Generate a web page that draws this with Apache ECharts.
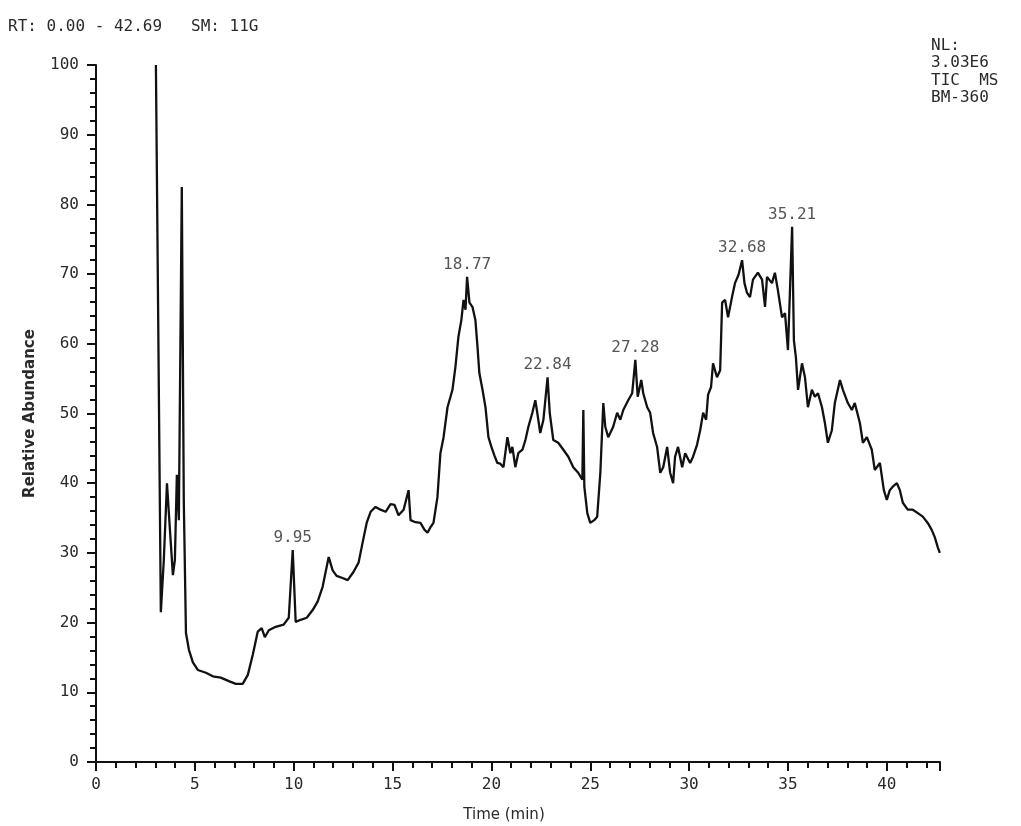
<!DOCTYPE html>
<html>
<head>
<meta charset="utf-8">
<title>RT: 0.00 - 42.69 SM: 11G</title>
<script src="https://cdn.jsdelivr.net/npm/echarts@6/dist/echarts.min.js"></script>
<style>
  html, body { margin: 0; padding: 0; background: #fff; }
  #chart { width: 1021px; height: 826px; }
</style>
</head>
<body>
<div id="chart"></div>
<script>
// Total ion chromatogram: retention time (min) vs relative abundance (%)
const retentionTime = [
  3.03, 3.28, 3.43, 3.59, 3.74, 3.89, 3.99, 4.09, 4.19, 4.34, 4.44, 4.55, 4.70, 4.90, 5.15,
  5.56, 5.91, 6.31, 6.72, 7.07, 7.42, 7.68, 7.93, 8.18, 8.38, 8.54, 8.74, 9.09, 9.49, 9.75, 9.95,
  10.10, 10.35, 10.66, 10.96, 11.21, 11.46, 11.77, 11.97, 12.17, 12.47, 12.73, 13.03, 13.28, 13.48,
  13.69, 13.89, 14.14, 14.39, 14.65, 14.90, 15.10, 15.30, 15.56, 15.81, 15.91, 16.16, 16.41, 16.62,
  16.77, 16.92, 17.07, 17.27, 17.42, 17.58, 17.78, 18.03, 18.18, 18.33, 18.48, 18.59, 18.69, 18.77,
  18.89, 19.04, 19.19, 19.29, 19.39, 19.55, 19.70, 19.85, 20.00, 20.15, 20.30, 20.45, 20.61, 20.81,
  20.96, 21.06, 21.21, 21.36, 21.57, 21.72, 21.87, 22.07, 22.22, 22.32, 22.47, 22.63, 22.84, 22.95,
  23.13, 23.38, 23.64, 23.89, 24.14, 24.39, 24.60, 24.65, 24.70, 24.85, 25.00, 25.20, 25.35, 25.51,
  25.66, 25.76, 25.91, 26.16, 26.36, 26.52, 26.67, 26.92, 27.12, 27.28, 27.40, 27.58, 27.68, 27.88,
  28.03, 28.18, 28.38, 28.54, 28.69, 28.89, 29.04, 29.19, 29.29, 29.44, 29.65, 29.80, 30.05, 30.20,
  30.40, 30.56, 30.71, 30.86, 30.96, 31.11, 31.21, 31.41, 31.57, 31.67, 31.82, 31.97, 32.17, 32.32,
  32.50, 32.68, 32.80, 32.93, 33.08, 33.23, 33.48, 33.69, 33.84, 33.94, 34.19, 34.34, 34.49, 34.70,
  34.85, 35.00, 35.21, 35.30, 35.40, 35.51, 35.71, 35.86, 36.01, 36.21, 36.36, 36.52, 36.72, 36.87,
  37.02, 37.22, 37.37, 37.63, 37.78, 38.03, 38.23, 38.38, 38.64, 38.79, 38.99, 39.24, 39.39, 39.65,
  39.85, 40.00, 40.15, 40.30, 40.51, 40.66, 40.81, 41.06, 41.31, 41.57, 41.82, 42.07, 42.27, 42.42,
  42.58, 42.68
];
const relAbundance = [
  100.0, 21.5, 29.0, 40.0, 33.3, 26.8, 29.0, 41.2, 34.7, 82.5, 37.6, 18.5, 16.1, 14.3, 13.2,
  12.8, 12.3, 12.1, 11.6, 11.2, 11.2, 12.5, 15.4, 18.7, 19.2, 17.9, 18.9, 19.4, 19.7, 20.7, 30.4,
  20.1, 20.4, 20.7, 21.8, 23.0, 25.1, 29.4, 27.5, 26.7, 26.4, 26.1, 27.3, 28.6, 31.4,
  34.3, 35.9, 36.6, 36.2, 35.9, 37.0, 36.9, 35.4, 36.2, 39.0, 34.7, 34.4, 34.3, 33.3,
  32.9, 33.7, 34.3, 38.0, 44.3, 46.6, 50.9, 53.4, 56.7, 61.0, 63.4, 66.3, 64.9, 69.6,
  65.9, 65.3, 63.4, 59.8, 55.8, 53.4, 50.9, 46.6, 45.2, 44.0, 42.9, 42.8, 42.3, 46.6,
  44.3, 45.2, 42.3, 44.3, 44.8, 46.2, 48.1, 50.1, 51.9, 50.1, 47.2, 49.1, 55.2, 50.1,
  46.2, 45.8, 44.8, 43.8, 42.3, 41.5, 40.5, 50.5, 39.5, 35.7, 34.3, 34.7, 35.2, 41.5,
  51.5, 48.1, 46.6, 48.1, 50.1, 49.1, 50.5, 51.9, 52.9, 57.7, 52.4, 54.8, 52.9, 50.9,
  50.1, 47.2, 45.2, 41.5, 42.3, 45.2, 41.5, 40.0, 43.8, 45.2, 42.3, 44.3, 42.9, 43.8,
  45.5, 47.6, 50.1, 49.1, 52.7, 53.8, 57.2, 55.2, 56.2, 65.9, 66.3, 63.8, 66.7, 68.7,
  69.9, 72.0, 68.7, 67.3, 66.7, 69.2, 70.2, 69.2, 65.3, 69.6, 68.7, 70.2, 67.7, 63.8,
  64.4, 59.1, 76.8, 60.5, 58.1, 53.4, 57.2, 55.2, 50.9, 53.4, 52.4, 52.9, 50.9, 48.6,
  45.8, 47.6, 51.5, 54.8, 53.4, 51.5, 50.5, 51.5, 48.6, 45.8, 46.6, 44.8, 41.9, 42.9,
  39.0, 37.6, 39.0, 39.5, 40.0, 39.0, 37.2, 36.2, 36.2, 35.7, 35.2, 34.3, 33.3, 32.3,
  30.8, 30.0
];
// Apex times that get a retention-time label
const peakTimes = [9.95, 18.77, 22.84, 27.28, 32.68, 35.21];

const headerText = 'RT: 0.00 - 42.69   SM: 11G';
const infoLines = ['NL:', '3.03E6', 'TIC  MS', 'BM-360'];

const MONO = 'DejaVu Sans Mono';
const SANS = 'DejaVu Sans';
const TXT = '#2a2a2a';

const trace = retentionTime.map((t, i) => [t, relAbundance[i]]);
const peaks = peakTimes.map(t => {
  const i = retentionTime.indexOf(t);
  return [retentionTime[i], relAbundance[i]];
});

const chart = echarts.init(document.getElementById('chart'), null, { renderer: 'canvas' });
chart.setOption({
  animation: false,
  backgroundColor: '#ffffff',
  grid: { left: 96, right: 81, top: 65, bottom: 64, containLabel: false, outerBoundsMode: 'none' },
  xAxis: {
    type: 'value',
    min: 0,
    max: 42.69,
    interval: 5,
    name: 'Time (min)',
    nameLocation: 'middle',
    nameGap: 46,
    nameTextStyle: { fontFamily: SANS, fontSize: 15, color: TXT, padding: [0, 28, 0, 0] },
    axisLine: { onZero: false, lineStyle: { color: '#111', width: 2 } },
    axisTick: { show: true, length: 9, lineStyle: { color: '#111', width: 2 } },
    minorTick: { show: true, splitNumber: 5, length: 6, lineStyle: { color: '#111', width: 2 } },
    splitLine: { show: false },
    axisLabel: {
      fontFamily: MONO, fontSize: 16, color: TXT, margin: 15,
      showMaxLabel: false,
      formatter: v => String(Math.round(v))
    }
  },
  yAxis: {
    type: 'value',
    min: 0,
    max: 100,
    interval: 10,
    name: 'Relative Abundance',
    nameLocation: 'middle',
    nameGap: 58,
    nameRotate: 90,
    nameTextStyle: { fontFamily: SANS, fontSize: 15, fontWeight: 'bold', color: TXT },
    axisLine: { onZero: false, lineStyle: { color: '#111', width: 2 } },
    axisTick: { show: true, length: 9, lineStyle: { color: '#111', width: 2 } },
    minorTick: { show: true, splitNumber: 5, length: 6, lineStyle: { color: '#111', width: 2 } },
    splitLine: { show: false },
    axisLabel: { fontFamily: MONO, fontSize: 16, color: TXT, margin: 17 }
  },
  series: [
    {
      type: 'line',
      data: trace,
      showSymbol: false,
      symbol: 'none',
      lineStyle: { color: '#111', width: 2.3 },
      silent: true
    },
    {
      type: 'scatter',
      data: peaks,
      symbolSize: 0,
      silent: true,
      label: {
        show: true,
        position: 'top',
        distance: 4,
        fontFamily: MONO,
        fontSize: 16,
        color: TXT,
        formatter: p => p.value[0].toFixed(2)
      }
    }
  ],
  graphic: [
    {
      type: 'text', left: 8, top: 19,
      style: { text: headerText, fontFamily: MONO, fontSize: 16, fill: TXT }
    },
    {
      type: 'text', left: 931, top: 37,
      style: { text: infoLines.join('\n'), fontFamily: MONO, fontSize: 16, lineHeight: 17.5, fill: TXT }
    }
  ]
});
</script>
</body>
</html>
